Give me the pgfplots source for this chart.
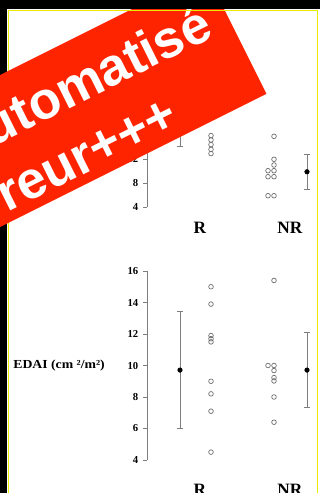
\documentclass[border=0pt]{standalone}
\usepackage{pgfplots}
\pgfplotsset{compat=1.18}
\usepackage{fontspec}
\setmainfont{Liberation Serif}
\newfontfamily\bannerfont{Liberation Sans}
\definecolor{bannerred}{RGB}{255,36,0}
\definecolor{ptgray}{RGB}{105,105,105}
\definecolor{axgray}{RGB}{125,125,125}
\definecolor{frameyellow}{RGB}{235,235,0}

\pgfplotsset{panel/.style={
  scale only axis, width=127.5pt, xmin=147, xmax=317,
  axis lines*=left,
  x axis line style={draw=none}, xtick style={draw=none},
  y axis line style={axgray, line width=0.7pt},
  ytick style={axgray, line width=0.7pt},
  ytick pos=left, xtick={200,290}, xticklabels={R,NR},
  tick align=outside, major tick length=3pt,
  xticklabel style={font=\bfseries\fontsize{13}{13}\selectfont, anchor=center, text=black},
  yticklabel style={font=\bfseries\fontsize{8}{8}\selectfont, text=black},
  /pgf/number format/assume math mode=true,
  clip=false,
  pts/.style={only marks, mark=o, mark size=1.75pt, mark options={ptgray, line width=0.5pt}},
  mean/.style={only marks, mark=*, mark size=1.7pt, mark options={black, fill=black},
     error bars/.cd, y dir=both, y explicit,
     error bar style={axgray, line width=0.7pt},
     error mark options={axgray, line width=0.7pt, rotate=90, mark size=2.2pt}},
}}

\begin{document}
\begin{tikzpicture}
\path[use as bounding box] (0,0) rectangle (240pt,-369.75pt);
\clip (0,0) rectangle (240pt,-369.75pt);
\begin{scope}[x=0.75pt,y=-0.75pt]
  \fill[white] (0,0) rectangle (320,493);
  \fill[black] (0,0) rectangle (7.3,493);
  \draw[frameyellow, line width=0.75pt] (8,10) -- (8,493);
  \draw[frameyellow, line width=0.75pt] (317.6,10) -- (317.6,493);
\end{scope}

% ---------- upper panel (its top lies under the banner) ----------
\begin{axis}[panel, at={(110.25pt,-155.25pt)}, anchor=south west,
  height=63pt, ymin=4, ymax=18, ytick={4,8,12},
  xticklabel style={yshift=-12.75pt}]
\addplot[pts] coordinates {(211,15.9) (211,15.17) (211,14.4) (211,13.6) (211,12.9)};
\addplot[pts] coordinates {(274,15.78) (274,11.95) (274,11.0) (268,10.05) (274,10.05)
  (268,9.05) (274,9.05) (268,5.88) (274,5.88)};
\addplot[mean] coordinates {(180,17.5) +- (0,3.45) (307,9.87) +- (0,2.92)};
\end{axis}

% ---------- lower panel ----------
\begin{axis}[panel, at={(110.25pt,-345pt)}, anchor=south west,
  height=141.75pt, ymin=4, ymax=16, ytick={4,6,...,16},
  xticklabel style={yshift=-19pt},
  ylabel={EDAI (cm ²/m²)},
  ylabel style={rotate=-90, at={(axis description cs:-0.788,0.4835)}, anchor=base west,
     font=\bfseries\fontsize{9.2}{9.5}\selectfont, inner sep=0pt, xscale=1.12}]
\addplot[pts] coordinates {(211,15.0) (211,13.9) (211,11.9) (211,11.7) (211,11.5)
  (211,9.0) (211,8.2) (211,7.1) (211,4.5)};
\addplot[pts] coordinates {(274,15.4) (268,10.0) (274,10.0) (274,9.68) (274,9.23)
  (274,9.02) (274,8.0) (274,6.4)};
\addplot[mean] coordinates {(180,9.71) +- (0,3.69) (307,9.71) +- (0,2.4)};
\end{axis}

% ---------- banner ----------
\begin{scope}[x=0.75pt,y=-0.75pt]
  \fill[bannerred] (205.6,-27.8) -- (266.4,93.8) -- (-91.2,272.6) -- (-152,151) -- cycle;
  \node[anchor=base east, rotate=26.57, inner sep=0pt, text=white,
        font=\bannerfont\bfseries\fontsize{39.5}{40}\selectfont] at (215.5,35.8) {Automatisé};
  \node[anchor=base east, rotate=26.57, inner sep=0pt, text=white,
        font=\bannerfont\bfseries\fontsize{39.5}{40}\selectfont] at (181.5,125.5) {Erreur+++};
  \fill[black] (0,0) rectangle (320,9.3);
  \draw[frameyellow, line width=0.75pt] (8,10) -- (318,10);
\end{scope}
\end{tikzpicture}
\end{document}
